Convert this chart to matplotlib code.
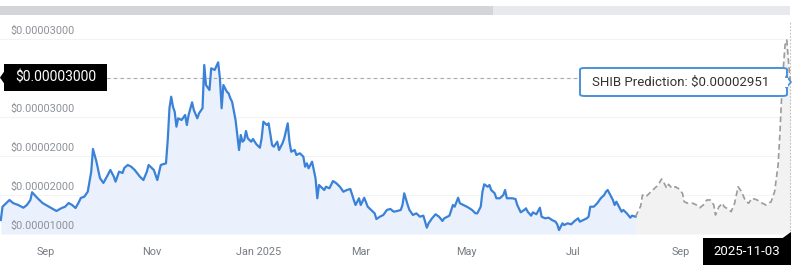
import numpy as np
import pandas as pd
import matplotlib
matplotlib.use("Agg")
import matplotlib.pyplot as plt
from matplotlib.patches import Rectangle, Polygon, FancyBboxPatch

plt.rcParams['font.family'] = ['Roboto', 'DejaVu Sans']

# SHIB price history (days since 2024-08-06, price in units of 1e-5 USD)
start = pd.Timestamp("2024-08-06")
hist_days = [0, 1, 2, 4, 5, 7, 10, 13, 15, 17, 18, 21, 24, 26, 29, 32, 35, 37, 39, 41,
             43, 45, 46, 48, 50, 52, 53, 55, 57, 59, 61, 63, 65, 66, 68, 70, 71, 73, 75, 77,
             80, 82, 84, 85, 88, 90, 92, 95, 96, 97, 98, 99, 100, 101, 102, 104, 106, 107, 108, 110,
             111, 113, 114, 116, 117, 118, 120, 121, 123, 125, 126, 127, 128, 130, 131, 132, 133, 135, 136, 137,
             138, 139, 140, 141, 142, 144, 145, 147, 149, 150, 151, 153, 154, 156, 157, 159, 160, 162, 163, 165,
             166, 167, 169, 170, 172, 174, 175, 176, 177, 179, 181, 182, 183, 184, 186, 187, 189, 191, 193, 195,
             197, 199, 201, 203, 204, 206, 207, 209, 211, 213, 215, 216, 218, 220, 222, 224, 226, 228, 230, 231,
             232, 234, 235, 237, 239, 241, 243, 244, 245, 246, 248, 250, 252, 254, 255, 258, 260, 261, 263, 264,
             266, 268, 269, 271, 273, 274, 276, 277, 278, 280, 281, 282, 284, 285, 287, 289, 290, 291, 294, 296,
             297, 299, 301, 302, 303, 305, 306, 308, 310, 311, 313, 315, 317, 319, 320, 321, 323, 324, 326, 328,
             330, 332, 333, 335, 337, 338, 339, 341, 343, 345, 347, 348, 349, 350, 352, 353, 354, 356, 357, 358,
             360, 362, 363, 365]
hist_price = [1.179, 1.350, 1.372, 1.414, 1.436, 1.397, 1.372, 1.337, 1.372, 1.436, 1.535, 1.462, 1.397, 1.372, 1.333, 1.295, 1.333, 1.350, 1.397, 1.372,
              1.333, 1.414, 1.462, 1.478, 1.542, 1.799, 2.090, 1.927, 1.718, 1.654, 1.735, 1.821, 1.735, 1.671, 1.799, 1.782, 1.846, 1.885, 1.863, 1.821,
              1.735, 1.692, 1.799, 1.885, 1.821, 1.692, 1.885, 1.906, 2.205, 2.615, 2.760, 2.632, 2.568, 2.376, 2.483, 2.462, 2.526, 2.397, 2.526, 2.688,
              2.590, 2.483, 2.547, 2.612, 3.167, 2.910, 2.846, 3.124, 3.103, 3.201, 2.996, 2.612, 2.910, 2.824, 2.804, 2.740, 2.696, 2.462, 2.269, 2.077,
              2.269, 2.183, 2.205, 2.321, 2.227, 2.183, 2.218, 2.150, 2.106, 2.227, 2.440, 2.397, 2.419, 2.141, 2.119, 2.183, 2.077, 2.163, 2.227, 2.419,
              2.183, 2.055, 2.077, 2.013, 2.035, 1.991, 1.863, 1.906, 1.842, 1.927, 1.714, 1.458, 1.628, 1.606, 1.564, 1.606, 1.586, 1.679, 1.650, 1.606,
              1.542, 1.564, 1.577, 1.436, 1.372, 1.458, 1.372, 1.465, 1.350, 1.308, 1.265, 1.192, 1.222, 1.244, 1.308, 1.321, 1.286, 1.295, 1.308, 1.372,
              1.522, 1.372, 1.308, 1.244, 1.265, 1.222, 1.235, 1.158, 1.081, 1.137, 1.201, 1.253, 1.222, 1.167, 1.201, 1.235, 1.372, 1.350, 1.465, 1.394,
              1.372, 1.350, 1.337, 1.308, 1.265, 1.265, 1.350, 1.542, 1.637, 1.606, 1.628, 1.564, 1.522, 1.458, 1.458, 1.500, 1.564, 1.458, 1.458, 1.449,
              1.372, 1.278, 1.308, 1.329, 1.286, 1.235, 1.278, 1.253, 1.337, 1.222, 1.201, 1.209, 1.179, 1.158, 1.124, 1.051, 1.137, 1.115, 1.137, 1.124,
              1.167, 1.201, 1.158, 1.179, 1.201, 1.222, 1.350, 1.350, 1.394, 1.458, 1.500, 1.542, 1.564, 1.522, 1.436, 1.372, 1.414, 1.329, 1.286, 1.308,
              1.265, 1.209, 1.235, 1.222]

# prediction
pred_days = [365, 368, 369, 371, 373, 375, 378, 380, 381, 383, 384, 386, 388, 390, 392, 393, 395, 398, 400, 402,
             404, 406, 408, 410, 411, 413, 415, 416, 419, 420, 422, 424, 426, 428, 430, 432, 435, 438, 440, 443,
             445, 447, 448, 449, 450, 451, 452, 453, 454]
pred_price = [1.222, 1.359, 1.500, 1.478, 1.522, 1.564, 1.628, 1.705, 1.671, 1.586, 1.637, 1.586, 1.606, 1.577, 1.522, 1.414, 1.394, 1.394, 1.372, 1.337,
              1.372, 1.436, 1.436, 1.372, 1.244, 1.350, 1.394, 1.350, 1.308, 1.286, 1.394, 1.606, 1.542, 1.436, 1.394, 1.458, 1.436, 1.394, 1.372, 1.414,
              1.542, 1.885, 2.269, 2.740, 3.124, 3.423, 3.487, 3.209, 2.951]

ytick_vals = [1.0, 1.5, 2.0, 2.5, 3.0, 3.5]
# the 3.0 label sits under the crosshair price box, so it is left empty
ytick_labels = ["$0.00001000", "$0.00002000", "$0.00002000", "$0.00003000", "", "$0.00003000"]
xtick_dates = ["2024-09-01", "2024-11-01", "2025-01-01", "2025-03-01", "2025-05-01", "2025-07-01", "2025-09-01"]
xtick_labels = ["Sep", "Nov", "Jan 2025", "Mar", "May", "Jul", "Sep"]

cross_price = 3.0
cross_label = "$0.00003000"
cross_date = "2025-11-03"
pred_label = "SHIB Prediction: $0.00002951"

scale = 1e-5
hist_x = start + pd.to_timedelta(hist_days, unit="D")
hist_y = np.array(hist_price) * scale
pred_x = start + pd.to_timedelta(pred_days, unit="D")
pred_y = np.array(pred_price) * scale

W, H = 800, 271
fig = plt.figure(figsize=(W / 100, H / 100), dpi=100)
ax = fig.add_axes([0, 37 / H, 792 / W, (234 - 22) / H])

base = ytick_vals[0] * scale
ax.fill_between(hist_x, hist_y, base, color="#eaf1fc", lw=0, zorder=1)
ax.fill_between(pred_x, pred_y, base, color="#f2f2f2", lw=0, zorder=1)
ax.plot(hist_x, hist_y, color="#3a82d8", lw=1.6, zorder=3)
ax.plot(pred_x, pred_y, color="#9b9b9b", lw=1.2, dashes=(3.5, 2), zorder=3)

for v in ytick_vals[1:]:
    ax.axhline(v * scale, color="#f3f3f3", lw=0.8, zorder=0)

# crosshair
ax.axhline(cross_price * scale, color="#a8a8a8", lw=0.8, dashes=(3, 3), zorder=2)
ax.axvline(pd.Timestamp(cross_date), color="#c0c0c0", lw=0.8, dashes=(1.5, 1.5), zorder=2)

for v, lab in zip(ytick_vals, ytick_labels):
    if not lab:
        continue
    ax.annotate(lab.replace("$", "\\$"), xy=(10 / 792, v * scale), xycoords=("axes fraction", "data"),
                xytext=(0, 8), textcoords="offset pixels", va="center", ha="left",
                fontsize=7.8, color="#8d9198", zorder=4)

ax.set_xlim(start - pd.Timedelta(days=0.46), start + pd.Timedelta(days=455))
ax.set_ylim(base, 3.718 * scale)
ax.set_xticks(pd.to_datetime(xtick_dates))
ax.set_xticklabels(xtick_labels)
ax.set_yticks([])
ax.tick_params(axis="x", length=0, pad=9.5, labelsize=7.8, labelcolor="#777b82")
for s in ax.spines.values():
    s.set_visible(False)


def px(x, y):
    return x / W, 1 - y / H


def rect(x0, y0, x1, y1, **kw):
    fig.add_artist(Rectangle(px(x0, y1), (x1 - x0) / W, (y1 - y0) / H,
                             transform=fig.transFigure, **kw))


def poly(pts, **kw):
    fig.add_artist(Polygon([px(*p) for p in pts], closed=True, transform=fig.transFigure, **kw))


# scrollbar on top
rect(0, 6, 493, 15, color="#d4d5d9", lw=0)
rect(493, 6, 790, 15, color="#e8e9ec", lw=0)

# left crosshair price label
rect(4, 64, 107, 91, color="black", lw=0)
poly([(4.5, 71), (0, 77.5), (4.5, 84)], color="black", lw=0)
fig.text(*px(55.5, 77.5), cross_label.replace("$", "\\$"), ha="center", va="center",
         fontsize=10, color="white")

# bottom date label
rect(703, 238, 791, 265, color="black", lw=0)
poly([(782, 238.5), (791, 232), (791, 238.5)], color="black", lw=0)
fig.text(*px(747, 251.5), cross_date, ha="center", va="center", fontsize=9.5, color="white")

# prediction tooltip
x0, y0, x1, y1 = 580, 68, 787, 96
fig.add_artist(FancyBboxPatch(px(x0, y1), (x1 - x0) / W, (y1 - y0) / H,
                              boxstyle="round,pad=0,rounding_size=0.006",
                              transform=fig.transFigure, facecolor="white",
                              edgecolor="#4a8fdb", lw=1.4))
poly([(786, 76), (791, 82), (786, 88)], facecolor="white", edgecolor="#4a8fdb", lw=1.2)
rect(784, 77.5, 787.5, 86.5, color="white", lw=0)
fig.text(*px(681, 82), pred_label.replace("$", "\\$"), ha="center", va="center",
         fontsize=9.5, color="#333333")

fig.savefig("out.png", dpi=100)
